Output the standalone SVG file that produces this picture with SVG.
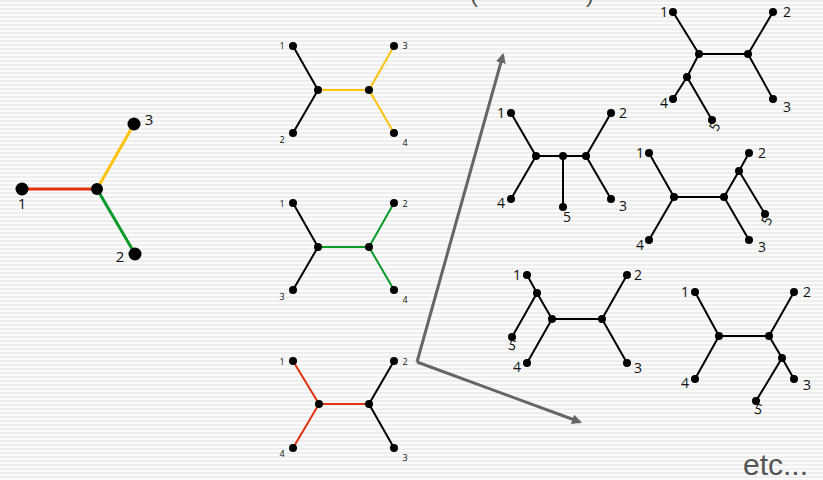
<svg xmlns="http://www.w3.org/2000/svg" width="823" height="480" viewBox="0 0 823 480">
<defs>
<pattern id="stripes" width="8" height="4" patternUnits="userSpaceOnUse">
<rect width="8" height="4" fill="#fbfbfb"/>
<rect width="8" height="2" fill="#eeeeee"/>
</pattern>
<marker id="ah" markerWidth="10" markerHeight="10" refX="8" refY="5" orient="auto" markerUnits="userSpaceOnUse">
<path d="M0,0 L10,5 L0,10 Z" fill="#666"/>
</marker>
<style>
.e{stroke:#000;stroke-width:2;fill:none;stroke-linecap:round}
.eb{stroke-width:3;fill:none;stroke-linecap:round}
.r{stroke:#e0320f}
.y{stroke:#ffc20e}
.g{stroke:#0a9a2a}
.lbl{font-family:"Open Sans","DejaVu Sans",sans-serif;fill:#111;text-anchor:middle}
.s9{font-size:9px}
.s14{font-size:14px}
.s15{font-size:15px}
.arr{stroke:#666;stroke-width:3;fill:none}
</style>
</defs>
<rect width="823" height="480" fill="url(#stripes)"/>

<text x="470" y="2" font-family="Liberation Sans, sans-serif" font-size="24" fill="#555">(</text>
<text x="586" y="2" font-family="Liberation Sans, sans-serif" font-size="24" fill="#555">)</text>

<g id="tree3">
<line class="eb r" x1="22" y1="189" x2="97" y2="189"/>
<line class="eb y" x1="97" y1="189" x2="134" y2="124"/>
<line class="eb g" x1="97" y1="189" x2="135" y2="254"/>
<circle cx="22" cy="189" r="6.5"/><circle cx="97" cy="189" r="6"/><circle cx="134" cy="124" r="6.5"/><circle cx="135" cy="254" r="6.5"/>
<text class="lbl s15" x="22" y="209">1</text>
<text class="lbl s15" x="149" y="125">3</text>
<text class="lbl s15" x="120" y="262">2</text>
</g>

<g id="quartet1">
<line class="e" x1="293" y1="46" x2="318" y2="90"/>
<line class="e" x1="293" y1="133" x2="318" y2="90"/>
<line class="e y" x1="318" y1="90" x2="369" y2="90"/>
<line class="e y" x1="369" y1="90" x2="394" y2="46"/>
<line class="e y" x1="369" y1="90" x2="394" y2="133"/>
<circle cx="293" cy="46" r="4"/><circle cx="293" cy="133" r="4"/><circle cx="318" cy="90" r="4"/><circle cx="369" cy="90" r="4"/><circle cx="394" cy="46" r="4"/><circle cx="394" cy="133" r="4"/>
<text class="lbl s9" x="282" y="49">1</text>
<text class="lbl s9" x="405" y="49">3</text>
<text class="lbl s9" x="282" y="143">2</text>
<text class="lbl s9" x="405" y="146">4</text>
</g>

<g id="quartet2">
<line class="e" x1="293" y1="203" x2="318" y2="247"/>
<line class="e" x1="293" y1="290" x2="318" y2="247"/>
<line class="e g" x1="318" y1="247" x2="369" y2="247"/>
<line class="e g" x1="369" y1="247" x2="394" y2="203"/>
<line class="e g" x1="369" y1="247" x2="394" y2="290"/>
<circle cx="293" cy="203" r="4"/><circle cx="293" cy="290" r="4"/><circle cx="318" cy="247" r="4"/><circle cx="369" cy="247" r="4"/><circle cx="394" cy="203" r="4"/><circle cx="394" cy="290" r="4"/>
<text class="lbl s9" x="282" y="207">1</text>
<text class="lbl s9" x="405" y="207">2</text>
<text class="lbl s9" x="282" y="300">3</text>
<text class="lbl s9" x="405" y="303">4</text>
</g>

<g id="quartet3">
<line class="e r" x1="293" y1="361" x2="319" y2="404"/>
<line class="e r" x1="293" y1="448" x2="319" y2="404"/>
<line class="e r" x1="319" y1="404" x2="369" y2="404"/>
<line class="e" x1="369" y1="404" x2="394" y2="361"/>
<line class="e" x1="369" y1="404" x2="394" y2="448"/>
<circle cx="293" cy="361" r="4"/><circle cx="293" cy="448" r="4"/><circle cx="319" cy="404" r="4"/><circle cx="369" cy="404" r="4"/><circle cx="394" cy="361" r="4"/><circle cx="394" cy="448" r="4"/>
<text class="lbl s9" x="282" y="365">1</text>
<text class="lbl s9" x="405" y="365">2</text>
<text class="lbl s9" x="282" y="457">4</text>
<text class="lbl s9" x="405" y="461">3</text>
</g>

<g id="connectors">
<line class="arr" x1="417" y1="362" x2="503" y2="55" marker-end="url(#ah)"/>
<line class="arr" x1="417" y1="362" x2="580" y2="422" marker-end="url(#ah)"/>
</g>

<g id="treeA">
<line class="e" x1="511" y1="113" x2="536" y2="156"/>
<line class="e" x1="511" y1="199" x2="536" y2="156"/>
<line class="e" x1="536" y1="156" x2="586" y2="156"/>
<line class="e" x1="563" y1="156" x2="563" y2="207"/>
<line class="e" x1="586" y1="156" x2="611" y2="113"/>
<line class="e" x1="586" y1="156" x2="611" y2="199"/>
<circle cx="511" cy="113" r="4"/><circle cx="511" cy="199" r="4"/><circle cx="536" cy="156" r="4"/><circle cx="563" cy="156" r="4"/><circle cx="586" cy="156" r="4"/><circle cx="563" cy="207" r="4"/><circle cx="611" cy="113" r="4"/><circle cx="611" cy="199" r="4"/>
<text class="lbl s14" x="501" y="118">1</text>
<text class="lbl s14" x="623" y="118">2</text>
<text class="lbl s14" x="501" y="208">4</text>
<text class="lbl s14" x="567" y="222">5</text>
<text class="lbl s14" x="623" y="211">3</text>
</g>

<g id="treeB">
<line class="e" x1="673" y1="12" x2="699" y2="54"/>
<line class="e" x1="699" y1="54" x2="748" y2="54"/>
<line class="e" x1="748" y1="54" x2="773" y2="12"/>
<line class="e" x1="748" y1="54" x2="773" y2="99"/>
<line class="e" x1="699" y1="54" x2="687" y2="77"/>
<line class="e" x1="687" y1="77" x2="673" y2="99"/>
<line class="e" x1="687" y1="77" x2="712" y2="120"/>
<circle cx="673" cy="12" r="4"/><circle cx="699" cy="54" r="4"/><circle cx="748" cy="54" r="4"/><circle cx="773" cy="12" r="4"/><circle cx="773" cy="99" r="4"/><circle cx="687" cy="77" r="4"/><circle cx="673" cy="99" r="4"/><circle cx="712" cy="120" r="4"/>
<text class="lbl s14" x="664" y="17">1</text>
<text class="lbl s14" x="787" y="17">2</text>
<text class="lbl s14" x="664" y="108">4</text>
<text class="lbl s14" x="787" y="112">3</text>
<text class="lbl s14" transform="translate(719,129) rotate(-60)">5</text>
</g>

<g id="treeC">
<line class="e" x1="649" y1="153" x2="674" y2="197"/>
<line class="e" x1="649" y1="240" x2="674" y2="197"/>
<line class="e" x1="674" y1="197" x2="724" y2="197"/>
<line class="e" x1="724" y1="197" x2="749" y2="240"/>
<line class="e" x1="724" y1="197" x2="739" y2="171"/>
<line class="e" x1="739" y1="171" x2="749" y2="153"/>
<line class="e" x1="739" y1="171" x2="765" y2="214"/>
<circle cx="649" cy="153" r="4"/><circle cx="649" cy="240" r="4"/><circle cx="674" cy="197" r="4"/><circle cx="724" cy="197" r="4"/><circle cx="739" cy="171" r="4"/><circle cx="749" cy="153" r="4"/><circle cx="765" cy="214" r="4"/><circle cx="749" cy="240" r="4"/>
<text class="lbl s14" x="640" y="158">1</text>
<text class="lbl s14" x="762" y="158">2</text>
<text class="lbl s14" x="640" y="250">4</text>
<text class="lbl s14" x="762" y="252">3</text>
<text class="lbl s14" transform="translate(771,223) rotate(-60)">5</text>
</g>

<g id="treeD">
<line class="e" x1="527" y1="275" x2="537" y2="293"/>
<line class="e" x1="537" y1="293" x2="552" y2="319"/>
<line class="e" x1="537" y1="293" x2="512" y2="337"/>
<line class="e" x1="552" y1="319" x2="527" y2="363"/>
<line class="e" x1="552" y1="319" x2="602" y2="319"/>
<line class="e" x1="602" y1="319" x2="627" y2="275"/>
<line class="e" x1="602" y1="319" x2="627" y2="363"/>
<circle cx="527" cy="275" r="4"/><circle cx="537" cy="293" r="4"/><circle cx="552" cy="319" r="4"/><circle cx="512" cy="337" r="4"/><circle cx="527" cy="363" r="4"/><circle cx="602" cy="319" r="4"/><circle cx="627" cy="275" r="4"/><circle cx="627" cy="363" r="4"/>
<text class="lbl s14" x="517" y="280">1</text>
<text class="lbl s14" x="638" y="280">2</text>
<text class="lbl s14" x="517" y="372">4</text>
<text class="lbl s14" x="638" y="373">3</text>
<text class="lbl s14" transform="translate(511,350) rotate(15)">5</text>
</g>

<g id="treeE">
<line class="e" x1="695" y1="292" x2="719" y2="336"/>
<line class="e" x1="695" y1="379" x2="719" y2="336"/>
<line class="e" x1="719" y1="336" x2="769" y2="336"/>
<line class="e" x1="769" y1="336" x2="794" y2="292"/>
<line class="e" x1="769" y1="336" x2="782" y2="358"/>
<line class="e" x1="782" y1="358" x2="794" y2="379"/>
<line class="e" x1="782" y1="358" x2="756" y2="401"/>
<circle cx="695" cy="292" r="4"/><circle cx="695" cy="379" r="4"/><circle cx="719" cy="336" r="4"/><circle cx="769" cy="336" r="4"/><circle cx="794" cy="292" r="4"/><circle cx="782" cy="358" r="4"/><circle cx="794" cy="379" r="4"/><circle cx="756" cy="401" r="4"/>
<text class="lbl s14" x="685" y="297">1</text>
<text class="lbl s14" x="807" y="297">2</text>
<text class="lbl s14" x="685" y="388">4</text>
<text class="lbl s14" x="807" y="390">3</text>
<text class="lbl s14" transform="translate(757,414) rotate(15)">5</text>
</g>

<text x="743" y="475" font-family="Liberation Sans, sans-serif" font-size="30" fill="#555">etc...</text>
</svg>
